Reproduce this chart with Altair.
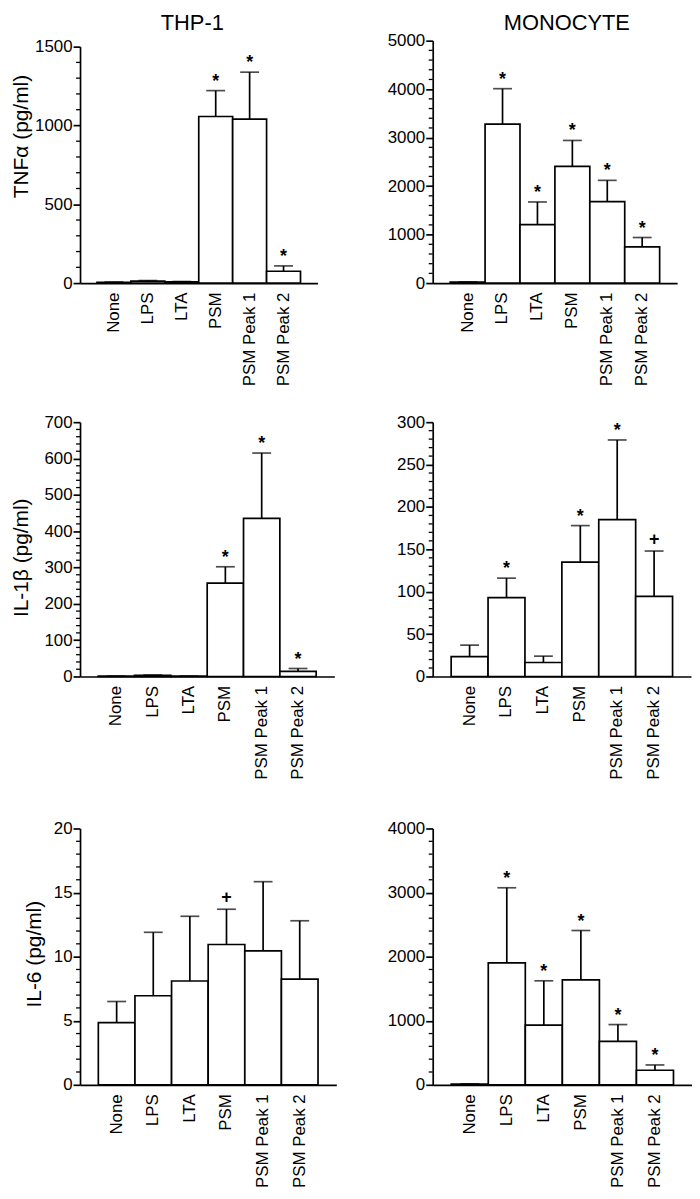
import altair as alt
import pandas as pd

FONT = "Liberation Sans"

CATEGORIES = ["None", "LPS", "LTA", "PSM", "PSM Peak 1", "PSM Peak 2"]

# THP-1, TNF-alpha
THP1_TNF_MEAN = [5, 12, 8, 1057, 1040, 75]
THP1_TNF_TOP = [7, 16, 10, 1221, 1338, 109]
THP1_TNF_SIG = ["", "", "", "*", "*", "*"]
THP1_TNF_TICKS = [0, 500, 1000, 1500]
THP1_TNF_MINOR = 100

# Monocyte, TNF-alpha
MONO_TNF_MEAN = [20, 3278, 1207, 2407, 1680, 748]
MONO_TNF_TOP = [24, 4010, 1673, 2942, 2119, 940]
MONO_TNF_SIG = ["", "*", "*", "*", "*", "*"]
MONO_TNF_TICKS = [0, 1000, 2000, 3000, 4000, 5000]
MONO_TNF_MINOR = 200

# THP-1, IL-1beta
THP1_IL1_MEAN = [1, 3, 1, 257, 435, 14]
THP1_IL1_TOP = [1, 4, 1, 302, 615, 22]
THP1_IL1_SIG = ["", "", "", "*", "*", "*"]
THP1_IL1_TICKS = [0, 100, 200, 300, 400, 500, 600, 700]
THP1_IL1_MINOR = 20

# Monocyte, IL-1beta
MONO_IL1_MEAN = [23.5, 93, 16.5, 135, 185, 94.5]
MONO_IL1_TOP = [37, 116, 24, 178, 279, 148]
MONO_IL1_SIG = ["", "*", "", "*", "*", "+"]
MONO_IL1_TICKS = [0, 50, 100, 150, 200, 250, 300]
MONO_IL1_MINOR = 10

# THP-1, IL-6
THP1_IL6_MEAN = [4.85, 6.95, 8.1, 10.95, 10.45, 8.25]
THP1_IL6_TOP = [6.5, 11.9, 13.15, 13.7, 15.85, 12.8]
THP1_IL6_SIG = ["", "", "", "+", "", ""]
THP1_IL6_TICKS = [0, 5, 10, 15, 20]
THP1_IL6_MINOR = 1

# Monocyte, IL-6
MONO_IL6_MEAN = [12, 1902, 930, 1638, 677, 227]
MONO_IL6_TOP = [15, 3075, 1623, 2408, 940, 310]
MONO_IL6_SIG = ["", "*", "*", "*", "*", "*"]
MONO_IL6_TICKS = [0, 1000, 2000, 3000, 4000]
MONO_IL6_MINOR = 200

LW = 1.7


def panel(mean, top, sig, ticks, minor_step, width, height, range_top=0,
          ytitle=None, title_x=None, title_y=None, header=None, header_x=None):
    df = pd.DataFrame({"cat": CATEGORIES, "mean": mean, "top": top, "sig": sig})
    ymax = ticks[-1]
    yscale = alt.Scale(domain=[0, ymax], range=[height, range_top], nice=False, zero=True)
    xscale = alt.Scale(paddingInner=0, paddingOuter=0.5)

    x_axis = alt.Axis(title=None, labelAngle=-90, labelAlign="right", labelBaseline="middle",
                      labelPadding=9, ticks=False, tickSize=0, labelFontSize=17,
                      labelFont=FONT, labelColor="black", domainColor="black",
                      domainWidth=LW, labelOverlap=False)
    ykw = dict(values=ticks, format="d", tickSize=7, tickWidth=LW, tickColor="black",
               domainColor="black", domainWidth=LW, labelFont=FONT, labelFontSize=17,
               labelColor="black", labelPadding=1, grid=False)
    if ytitle:
        ykw.update(title=ytitle, titleX=title_x, titleY=title_y, titleAngle=-90,
                   titleAlign="center", titleBaseline="middle", titleFont=FONT,
                   titleFontSize=21, titleFontWeight="normal", titleColor="black")
    else:
        ykw["title"] = None
    y_axis = alt.Axis(**ykw)

    X = alt.X("cat:N", sort=CATEGORIES, scale=xscale, axis=x_axis)
    base = alt.Chart(df)

    bars = base.mark_bar(fill="white", stroke="black", strokeWidth=LW).encode(
        x=X, y=alt.Y("mean:Q", scale=yscale, axis=y_axis))
    err = base.mark_rule(color="black", strokeWidth=LW).encode(
        x=X, y=alt.Y("mean:Q", scale=yscale, axis=y_axis), y2="top:Q")
    cap = base.mark_tick(color="black", thickness=LW, size=19).encode(
        x=X, y=alt.Y("top:Q", scale=yscale, axis=y_axis))
    stars = base.transform_filter("datum.sig == '*'").mark_text(
        font=FONT, fontSize=18, fontWeight="bold", dy=-4, baseline="alphabetic",
        color="black").encode(
        x=X, y=alt.Y("top:Q", scale=yscale, axis=y_axis), text="sig:N")
    plus = base.transform_filter("datum.sig == '+'").mark_text(
        font=FONT, fontSize=18, fontWeight="bold", dy=-6, baseline="alphabetic",
        color="black").encode(
        x=X, y=alt.Y("top:Q", scale=yscale, axis=y_axis), text="sig:N")

    minor_vals = [v for v in range(0, ymax + 1, minor_step) if v not in ticks]
    minor = alt.Chart(pd.DataFrame({"v": minor_vals})).mark_rule(
        color="black", strokeWidth=1.3).encode(
        x=alt.value(-4), x2=alt.value(0), y=alt.Y("v:Q", scale=yscale, axis=y_axis))

    layers = [bars, err, cap, stars, plus, minor]
    if header:
        head = alt.Chart(pd.DataFrame({"t": [header]})).mark_text(
            font=FONT, fontSize=22, baseline="alphabetic", align="center",
            color="black").encode(x=alt.value(header_x), y=alt.value(-11), text="t:N")
        layers.append(head)
    return alt.layer(*layers).properties(width=width, height=height)


p1 = panel(THP1_TNF_MEAN, THP1_TNF_TOP, THP1_TNF_SIG, THP1_TNF_TICKS, THP1_TNF_MINOR,
           239, 244, range_top=6, ytitle="TNFα (pg/ml)", title_x=-59, title_y=96,
           header="THP-1", header_x=113)
p2 = panel(MONO_TNF_MEAN, MONO_TNF_TOP, MONO_TNF_SIG, MONO_TNF_TICKS, MONO_TNF_MINOR,
           246, 244, header="MONOCYTE", header_x=135)
p3 = panel(THP1_IL1_MEAN, THP1_IL1_TOP, THP1_IL1_SIG, THP1_IL1_TICKS, THP1_IL1_MINOR,
           256, 256, ytitle="IL-1β (pg/ml)", title_x=-59, title_y=136)
p4 = panel(MONO_IL1_MEAN, MONO_IL1_TOP, MONO_IL1_SIG, MONO_IL1_TICKS, MONO_IL1_MINOR,
           260, 256)
p5 = panel(THP1_IL6_MEAN, THP1_IL6_TOP, THP1_IL6_SIG, THP1_IL6_TICKS, THP1_IL6_MINOR,
           258, 271, range_top=13, ytitle="IL-6 (pg/ml)", title_x=-46, title_y=139)
p6 = panel(MONO_IL6_MEAN, MONO_IL6_TOP, MONO_IL6_SIG, MONO_IL6_TICKS, MONO_IL6_MINOR,
           261, 271, range_top=13)

chart = alt.concat(
    p1, p2, p3, p4, p5, p6, columns=2,
    spacing={"row": 140, "column": 97}, bounds="flush", align="each"
).properties(
    padding={"left": 1.5, "top": 0, "right": 0, "bottom": 0}
).configure_view(stroke=None).configure_axis(grid=False)

chart.save("out.html", embed_options={"renderer": "svg", "actions": False})
